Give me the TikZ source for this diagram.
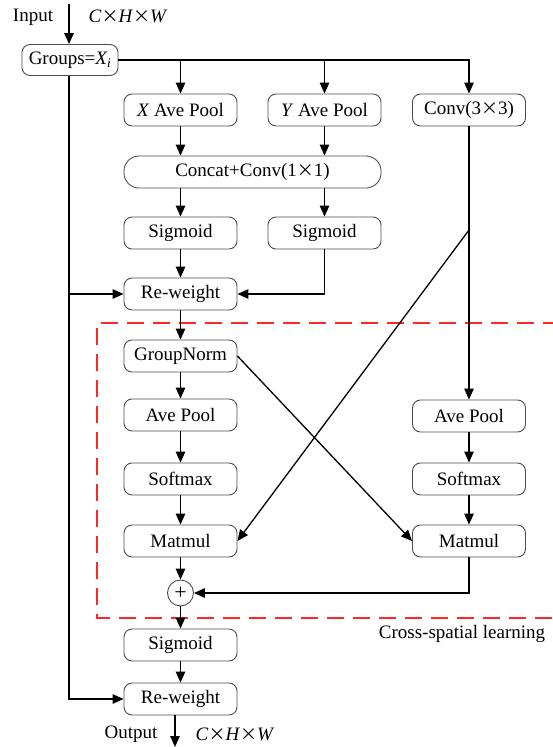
\documentclass[tikz,border=0pt]{standalone}
\usepackage{fontspec}
\setmainfont{Liberation Serif}
\newfontfamily\cjk{Noto Sans CJK SC}
\newcommand{\tms}{{\cjk\fontsize{17}{20}\selectfont ×}}
\usetikzlibrary{arrows.meta,calc}
\begin{document}
\begin{tikzpicture}[x=1pt,y=-1pt,
  every node/.style={font=\fontsize{19}{22}\selectfont},
  blk/.style={draw=black!70,line width=0.9pt,rounded corners=8pt,minimum width=113pt,minimum height=32pt,inner sep=0pt},
  arr/.style={line width=1.3pt,-{Triangle[width=9.5pt,length=11pt]}},
  lbl/.style={inner sep=0pt}]
\useasboundingbox (0,0) rectangle (553,747);
% dashed region
\draw[red!85!white,line width=1.2pt,dash pattern=on 17pt off 9pt] (560,323) -- (97,323) -- (97,618) -- (560,618);
% nodes
\node[blk,minimum width=96pt,minimum height=31pt] (grp) at (70,60) {Groups=\textit{X\textsubscript{i}}};
\node[blk] (xp) at (180.5,110) {\textit{X} Ave Pool};
\node[blk] (yp) at (324.5,110) {\textit{Y} Ave Pool};
\node[blk] (conv) at (469,110) {Conv(3\tms3)};
\node[blk,minimum width=257pt,rounded corners=15pt] (cat) at (252.5,172) {Concat+Conv(1\tms1)};
\node[blk] (s1) at (180.5,233) {Sigmoid};
\node[blk] (s2) at (324.5,233) {Sigmoid};
\node[blk] (rw1) at (180.5,294) {Re-weight};
\node[blk] (gn) at (180.5,356) {GroupNorm};
\node[blk] (ap1) at (180.5,415) {Ave Pool};
\node[blk] (sm1) at (180.5,479) {Softmax};
\node[blk] (mm1) at (180.5,541) {Matmul};
\node[draw=black!70,line width=0.9pt,circle,minimum size=26pt,inner sep=0pt] (plus) at (180.5,593) {\fontsize{22}{22}\selectfont +};
\node[blk] (s3) at (180.5,645) {Sigmoid};
\node[blk] (rw2) at (180.5,699) {Re-weight};
\node[blk] (ap2) at (469,416) {Ave Pool};
\node[blk] (sm2) at (469,479) {Softmax};
\node[blk] (mm2) at (469,541) {Matmul};
% labels
\node[lbl] (tin) at (33,17) {Input};
\node[lbl] (cin) at (128,16) {\textit{C}\tms\textit{H}\tms\textit{W}};
\node[lbl] (tout) at (131,734) {Output};
\node[lbl] (cout) at (235,734) {\textit{C}\tms\textit{H}\tms\textit{W}};
\node[lbl] (cross) at (462,634) {Cross-spatial learning};
\coordinate (inp) at (69,4);
\coordinate (out) at (175,747);
\coordinate (br) at (469,230);
% connectors
\draw[arr] (inp) -- (inp |- grp.north);
\draw[arr] (grp.east) -| (conv.north);
\draw[arr] (xp.north |- grp.east) -- (xp.north);
\draw[arr] (yp.north |- grp.east) -- (yp.north);
\draw[arr] (xp.south) -- (xp.south |- cat.north);
\draw[arr] (yp.south) -- (yp.south |- cat.north);
\draw[arr] (s1.north |- cat.south) -- (s1.north);
\draw[arr] (s2.north |- cat.south) -- (s2.north);
\draw[arr] (s1) -- (rw1);
\draw[arr] (s2.south) |- (rw1.east);
\draw[arr] (grp.south -| inp) |- (rw2.west);
\draw[arr] (inp |- rw1.west) -- (rw1.west);
\draw[arr] (rw1) -- (gn);
\draw[arr] (gn) -- (ap1);
\draw[arr] (ap1) -- (sm1);
\draw[arr] (sm1) -- (mm1);
\draw[arr] (mm1) -- (plus);
\draw[arr] (plus) -- (s3);
\draw[arr] (s3) -- (rw2);
\draw[arr] (rw2.south -| out) -- (out);
\draw[arr] (conv) -- (ap2);
\draw[arr] (ap2) -- (sm2);
\draw[arr] (sm2) -- (mm2);
\draw[arr] (mm2.south) |- (plus.east);
\draw[arr] (gn.east) -- (mm2.west);
\draw[arr] (br) -- (mm1.east);
\end{tikzpicture}
\end{document}
